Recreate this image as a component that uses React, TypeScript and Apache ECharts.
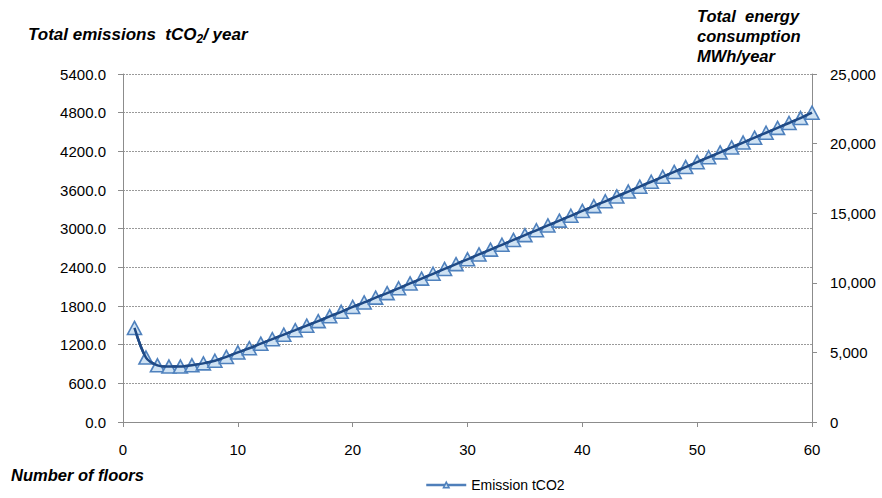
import React, { useEffect, useRef } from "react";
import * as echarts from "echarts";

const floors: number[] = Array.from({ length: 60 }, (_, i) => i + 1);
const emissions: number[] = [
  1460, 1000, 880, 860, 860, 880, 910, 950, 1010, 1080,
  1145, 1215, 1285, 1355, 1425, 1495, 1565, 1640, 1710, 1785,
  1855, 1930, 2000, 2075, 2150, 2225, 2300, 2375, 2450, 2525,
  2600, 2675, 2750, 2825, 2900, 2975, 3050, 3125, 3200, 3275,
  3350, 3425, 3500, 3576, 3652, 3728, 3804, 3880, 3956, 4032,
  4108, 4184, 4260, 4336, 4412, 4488, 4564, 4640, 4716, 4800,
];
const leftTicks = { min: 0, max: 5400, interval: 600 };
const rightTicks = { min: 0, max: 25000, interval: 5000 };
const xTicks = { min: 0, max: 60, interval: 10 };
const seriesName = "Emission tCO2";

const FONT = "'Liberation Sans', Arial, sans-serif";

export default function App() {
  const ref = useRef<HTMLDivElement>(null);
  useEffect(() => {
    if (!ref.current) return;
    const chart = echarts.init(ref.current, null, { renderer: "svg" });
    const axisLine = { show: true, lineStyle: { color: "#8c8c8c", width: 1 } };
    const nameStyle = { fontFamily: FONT, fontSize: 16.5, fontWeight: "bold", fontStyle: "italic", fill: "#000" };
    const pts = floors.map((f, i) => [f, emissions[i]]);
    chart.setOption({
      animation: false,
      textStyle: { fontFamily: FONT },
      grid: { left: 123, right: 70, top: 74, bottom: 76, containLabel: false },
      xAxis: {
        type: "value",
        ...xTicks,
        axisLine: { ...axisLine, onZero: false },
        axisTick: { show: true, length: 5, lineStyle: { color: "#8c8c8c" } },
        axisLabel: { color: "#000", fontSize: 15, margin: 20, fontFamily: FONT },
        splitLine: { show: false },
      },
      yAxis: [
        {
          type: "value",
          ...leftTicks,
          position: "left",
          axisLine,
          axisTick: { show: true, length: 5, lineStyle: { color: "#8c8c8c" } },
          axisLabel: {
            color: "#000",
            fontSize: 15,
            margin: 17,
            fontFamily: FONT,
            formatter: (v: number) => v.toFixed(1),
          },
          splitLine: { show: true, lineStyle: { color: "#9a9a9a", type: [2, 1], width: 1 } },
        },
        {
          type: "value",
          ...rightTicks,
          position: "right",
          axisLine,
          axisTick: { show: true, length: 5, lineStyle: { color: "#8c8c8c" } },
          axisLabel: {
            color: "#000",
            fontSize: 15,
            margin: 18,
            fontFamily: FONT,
            formatter: (v: number) => v.toLocaleString("en-US"),
          },
          splitLine: { show: false },
        },
      ],
      legend: {
        top: 476,
        left: 420,
        itemWidth: 40,
        itemHeight: 7,
        itemGap: 10,
        padding: [2, 5, 2, 5],
        textStyle: { color: "#000", fontSize: 14, fontFamily: FONT },
        data: [{ name: seriesName, itemStyle: { color: "#c5dcf0", borderColor: "#4f81bd", borderWidth: 1.5 }, lineStyle: { color: "#4f7fba", width: 2.5 } }],
      },
      graphic: [
        {
          type: "text",
          left: 28,
          top: 26,
          style: {
            text: "{a|Total emissions  tCO}{b|2}{a|/ year}",
            rich: {
              a: { ...nameStyle, fontSize: 17 },
              b: { ...nameStyle, fontSize: 12, padding: [8, 0, 0, 0] },
            },
          },
        },
        {
          type: "text",
          left: 697,
          top: 6,
          style: {
            text: "Total  energy\nconsumption\nMWh/year",
            ...nameStyle,
            lineHeight: 20,
          },
        },
        {
          type: "text",
          left: 11,
          top: 466,
          style: { text: "Number of floors", ...nameStyle },
        },
      ],
      series: [
        {
          name: seriesName,
          type: "line",
          yAxisIndex: 0,
          smooth: 0.3,
          data: pts,
          symbol: "triangle",
          symbolSize: [14, 13],
          lineStyle: { color: "#1f4a86", width: 2.5 },
          itemStyle: { color: "#cfe2f3", borderColor: "#4f81bd", borderWidth: 1.6 },
          z: 3,
        },
        {
          name: "overlay",
          type: "line",
          yAxisIndex: 0,
          smooth: 0.3,
          data: pts,
          symbol: "none",
          silent: true,
          lineStyle: { color: "#1f4a86", width: 2.5 },
          z: 4,
        },
      ],
    });
    return () => chart.dispose();
  }, []);
  return <div ref={ref} style={{ width: 882, height: 498, position: "absolute", left: 0, top: 0 }} />;
}
